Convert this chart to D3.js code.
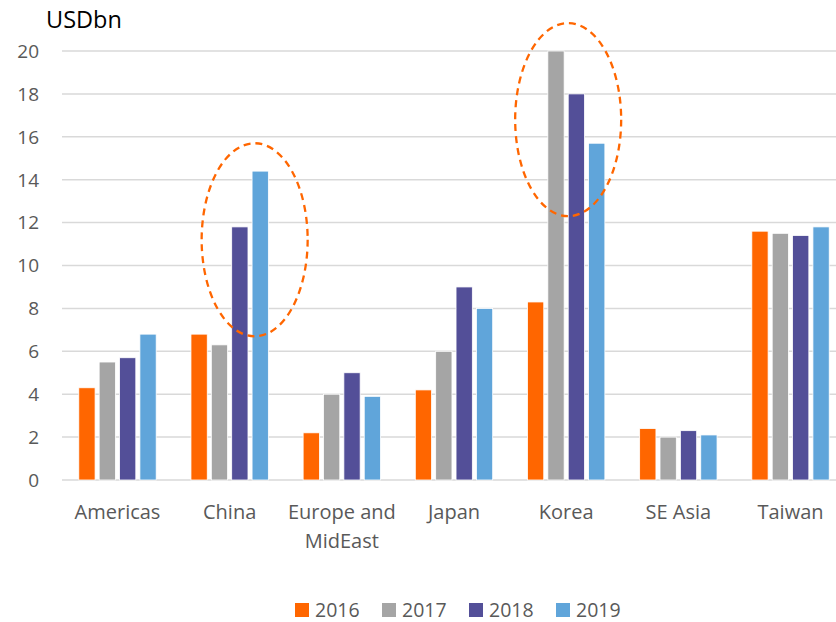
<!DOCTYPE html>
<html><head><meta charset="utf-8">
<script src="https://cdn.jsdelivr.net/npm/d3@7"></script>
<style>body{margin:0;background:#fff;} svg{display:block;}</style>
</head><body>
<svg id="c" width="836" height="622"></svg>
<script>
const categories = ["Americas","China","Europe and\nMidEast","Japan","Korea","SE Asia","Taiwan"];
const years = ["2016","2017","2018","2019"];
const v2016 = [4.3, 6.8, 2.2, 4.2, 8.3, 2.4, 11.6];
const v2017 = [5.5, 6.3, 4.0, 6.0, 20.0, 2.0, 11.5];
const v2018 = [5.7, 11.8, 5.0, 9.0, 18.0, 2.3, 11.4];
const v2019 = [6.8, 14.4, 3.9, 8.0, 15.7, 2.1, 11.8];
const yTicks = [0,2,4,6,8,10,12,14,16,18,20];
const colors = ["#FF6600","#A5A5A5","#534F98","#60A5DA"];
// annotation ellipses: category, center value, half-height in value units
const annCats = ["China","Korea"];
const annCenter = [11.2, 16.8];
const annHalf = [4.5, 4.5];

const series = [v2016, v2017, v2018, v2019];
const svg = d3.select("#c");
const font = "'Open Sans', sans-serif";

const x = d3.scaleBand().domain(categories).range([61.4, 846.6]).paddingInner(0.31).paddingOuter(0.155);
const xi = d3.scaleBand().domain(years).range([0, x.bandwidth()]).paddingInner(0.2);
const y = d3.scaleLinear().domain([0,20]).range([480, 51]);

// gridlines
svg.append("g").selectAll("line").data(yTicks).join("line")
  .attr("x1", 62).attr("x2", 836)
  .attr("y1", d => y(d)).attr("y2", d => y(d))
  .attr("stroke", "#D9D9D9").attr("stroke-width", 1.5);

// y labels
svg.append("g").selectAll("text").data(yTicks).join("text")
  .attr("x", 39).attr("y", d => y(d)).attr("dy", "0.36em")
  .attr("text-anchor", "end").attr("font-family", font).attr("font-size", 19)
  .attr("fill", "#595959").text(d => d);

svg.append("text").attr("x", 46).attr("y", 28).attr("font-family", font)
  .attr("font-size", 23.5).attr("fill", "#000").text("USDbn");

// bars
const g = svg.append("g").selectAll("g").data(series).join("g")
  .attr("fill", (d,i) => colors[i]);
g.each(function(vals, si) {
  d3.select(this).selectAll("rect").data(vals).join("rect")
    .attr("x", (d,ci) => x(categories[ci]) + xi(years[si]))
    .attr("width", xi.bandwidth())
    .attr("y", d => y(d))
    .attr("height", d => y(0) - y(d))
    .attr("stroke", "#fff").attr("stroke-width", 0.8);
});

// x labels
const xl = svg.append("g").selectAll("text").data(categories).join("text")
  .attr("x", d => x(d) + x.bandwidth()/2).attr("y", 519)
  .attr("text-anchor", "middle").attr("font-family", font).attr("font-size", 20)
  .attr("fill", "#595959");
xl.each(function(d) {
  const lines = d.split("\n");
  d3.select(this).selectAll("tspan").data(lines).join("tspan")
    .attr("x", x(d) + x.bandwidth()/2).attr("dy", (l,i) => i ? 28.5 : 0).text(l => l);
});

// annotation ellipses
const offs = [25, 2];
svg.append("g").selectAll("ellipse").data(annCats).join("ellipse")
  .attr("cx", (d,i) => x(d) + x.bandwidth()/2 + offs[i])
  .attr("cy", (d,i) => y(annCenter[i]))
  .attr("rx", 53)
  .attr("ry", (d,i) => y(0) - y(annHalf[i]))
  .attr("fill", "none").attr("stroke", "#FF6600").attr("stroke-width", 2.3)
  .attr("stroke-dasharray", "7,5");

// legend
const lg = svg.append("g").selectAll("g").data(years).join("g")
  .attr("transform", (d,i) => `translate(${295 + i*87},603)`);
lg.append("rect").attr("width", 14).attr("height", 14).attr("fill", (d,i) => colors[i]);
lg.append("text").attr("x", 20).attr("y", 13.5).attr("font-family", font).attr("font-size", 19.5)
  .attr("fill", "#595959").text(d => d);
</script>
</body></html>
